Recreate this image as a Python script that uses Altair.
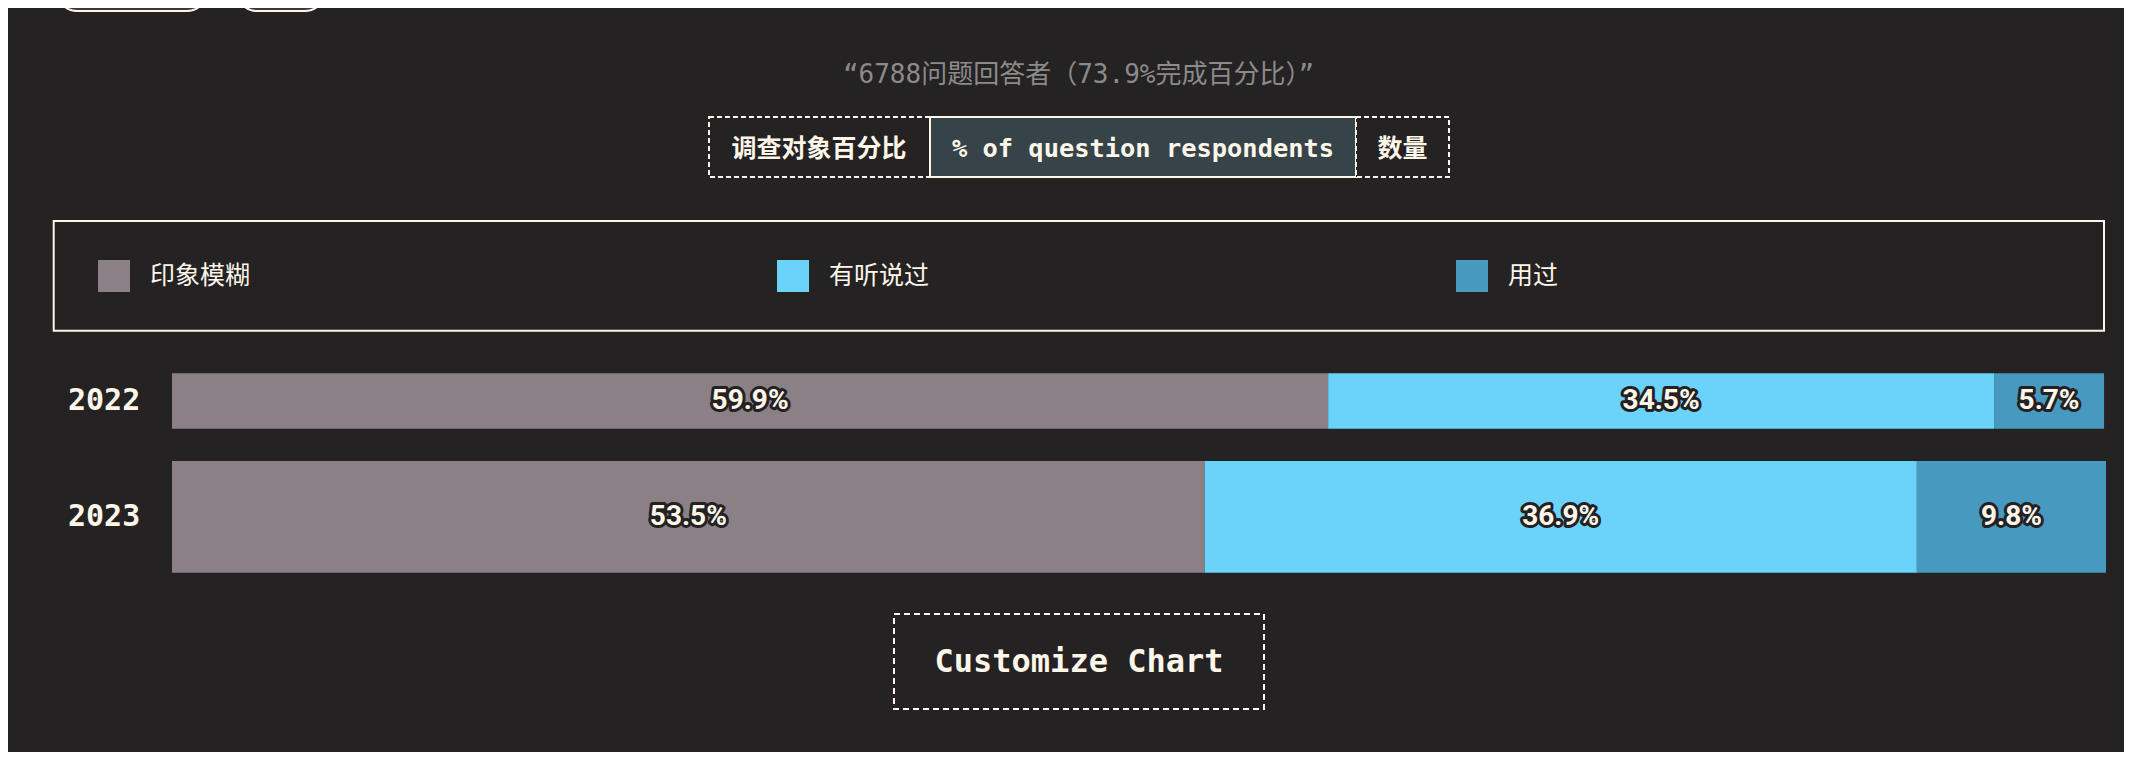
import altair as alt
import pandas as pd

# ---------------- data ----------------
years = ["2022", "2023"]
categories = ["印象模糊", "有听说过", "用过"]
pct_2022 = [59.9, 34.5, 5.7]
pct_2023 = [53.5, 36.9, 9.8]
colors = ["#8a8086", "#6bd2fa", "#4799bf"]

subtitle = "“6788问题回答者（73.9%完成百分比）”"
toggle_labels = ["调查对象百分比", "% of question respondents", "数量"]
button_label = "Customize Chart"

rows = []
for yr, vals in zip(years, [pct_2022, pct_2023]):
    for k, (c, v) in enumerate(zip(categories, vals)):
        rows.append({"year": yr, "cat": c, "pct": v, "k": k, "label": f"{v:.1f}%"})
df = pd.DataFrame(rows)
year_df = pd.DataFrame({"year": years})
xmax = max(sum(pct_2022), sum(pct_2023))

# ---------------- styles ----------------
BG = "#242223"
CREAM = "#fdf6e9"
MONO = "DejaVu Sans Mono, Noto Sans CJK SC"
CJK = "Noto Sans CJK SC"
EMPTY = alt.Data(values=[{}])

xscale = alt.Scale(domain=[0, xmax], range=[164, 2098], nice=False, zero=True)
yscale = alt.Scale(domain=years, range=[335.1, 566.7], paddingInner=0, paddingOuter=0)


def box(x1, x2, y1, y2, fill, stroke, dash=None, radius=0):
    kw = dict(fill=fill, stroke=stroke, strokeWidth=2, cornerRadius=radius)
    if dash:
        kw["strokeDash"] = dash
    return alt.Chart(EMPTY).mark_rect(**kw).encode(
        x=alt.value(x1), x2=alt.value(x2), y=alt.value(y1), y2=alt.value(y2)
    )


def label(text, x, y, size, weight, color, font, align="center"):
    return alt.Chart(EMPTY).mark_text(
        text=text, font=font, fontSize=size, fontWeight=weight, color=color,
        align=align, baseline="middle"
    ).encode(x=alt.value(x), y=alt.value(y))


# top (cut-off) pill buttons
pill1 = box(49, 199, -40, 3, "#3b393a", CREAM, radius=20)
pill2 = box(229, 317, -40, 3, "#3b393a", CREAM, radius=20)

title = label(subtitle, 1070.5, 67, 26, "normal", "#8c8a8a", MONO)

# toggle group
t_left = box(701, 922, 109, 169, BG, CREAM, dash=[5, 3])
t_mid = box(922, 1348, 109, 169, "#36444a", CREAM)
t_right = box(1348, 1441, 109, 169, BG, CREAM, dash=[5, 3])
t_left_l = label(toggle_labels[0], 811, 141, 25, "bold", CREAM, MONO)
t_mid_l = label(toggle_labels[1], 1135, 141, 25.4, "bold", CREAM, MONO)
t_right_l = label(toggle_labels[2], 1394.5, 141, 25, "bold", CREAM, MONO)

# legend frame
legend_box = box(45.7, 2096, 213, 322.7, BG, CREAM)

# ---------------- bars ----------------
base = alt.Chart(df).transform_window(
    cum="sum(pct)", groupby=["year"], sort=[alt.SortField("k")], frame=[None, 0]
).transform_calculate(mid="datum.cum - datum.pct / 2")

bars = base.mark_bar().encode(
    x=alt.X("pct:Q", stack="zero", scale=xscale, axis=None),
    y=alt.Y("year:N", scale=yscale, axis=None),
    color=alt.Color(
        "cat:N",
        scale=alt.Scale(domain=categories, range=colors),
        legend=alt.Legend(
            orient="none", legendX=90, legendY=252, direction="horizontal",
            title=None, symbolType="square", symbolSize=1024,
            symbolStrokeWidth=0, symbolOpacity=1, labelFont=CJK,
            labelFontSize=25, labelColor=CREAM, labelOffset=20,
            columnPadding=526, padding=0, labelLimit=300,
        ),
    ),
    order=alt.Order("k:Q"),
    size=alt.condition(alt.datum.year == "2022", alt.value(55.4), alt.value(111.7)),
)

txt_kw = dict(font="Roboto", fontSize=28, fontWeight="bold", align="center", baseline="middle")
pct_outline = base.mark_text(
    color=CREAM, stroke="#232122", strokeWidth=6, strokeJoin="round", **txt_kw
).encode(
    x=alt.X("mid:Q", scale=xscale, axis=None),
    y=alt.Y("year:N", scale=yscale, axis=None),
    text="label:N",
)
pct_fill = base.mark_text(color=CREAM, **txt_kw).encode(
    x=alt.X("mid:Q", scale=xscale, axis=None),
    y=alt.Y("year:N", scale=yscale, axis=None),
    text="label:N",
)

year_labels = alt.Chart(year_df).mark_text(
    font=MONO, fontSize=30, fontWeight="bold", color=CREAM, align="left", baseline="middle"
).encode(
    x=alt.value(60),
    y=alt.Y("year:N", scale=yscale, axis=None),
    text="year:N",
)

# customize button
cust_box = box(886, 1256, 606, 701, BG, CREAM, dash=[6, 4])
cust_lbl = label(button_label, 1071, 654, 32, "bold", CREAM, MONO)

chart = alt.layer(
    pill1, pill2, title,
    t_left, t_mid, t_right, t_left_l, t_mid_l, t_right_l,
    legend_box,
    bars, pct_outline, pct_fill, year_labels,
    cust_box, cust_lbl,
).properties(
    width=2116, height=744, background=BG, padding=0,
    autosize=alt.AutoSizeParams(type="none"),
).configure_view(stroke=None)

chart.save("out.html", embed_options={"renderer": "svg", "actions": False})
